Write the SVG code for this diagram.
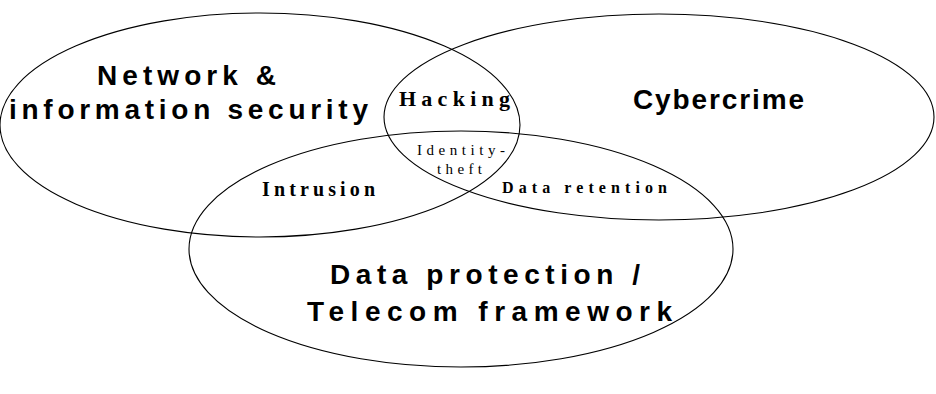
<svg xmlns="http://www.w3.org/2000/svg" width="936" height="394" viewBox="0 0 936 394">
<style>
.ring{fill:none;stroke:#000;stroke-width:1.1}
.big{font-family:"Liberation Sans",Arial,sans-serif;font-weight:bold;font-size:28px;fill:#000}
.small{font-family:"Liberation Serif","Times New Roman",serif;fill:#000}
</style>
<rect width="936" height="394" fill="#fff"/>
<g id="connectors"></g>
<g id="network-security">
<ellipse class="ring" cx="260" cy="125" rx="260" ry="112"/>
<text class="big" x="97" y="85" textLength="179" lengthAdjust="spacing">Network &amp;</text>
<text class="big" x="9" y="119" textLength="359" lengthAdjust="spacing">information security</text>
</g>
<g id="cybercrime">
<ellipse class="ring" cx="659" cy="117" rx="275" ry="103"/>
<text class="big" x="633" y="109" textLength="171" lengthAdjust="spacing">Cybercrime</text>
</g>
<g id="data-protection">
<ellipse class="ring" cx="461" cy="249" rx="272" ry="118"/>
<text class="big" x="330" y="284" textLength="310" lengthAdjust="spacing">Data protection /</text>
<text class="big" x="307" y="321" textLength="365" lengthAdjust="spacing">Telecom framework</text>
</g>
<g id="hacking">
<text class="small" x="399" y="106" font-size="22" font-weight="bold" textLength="111" lengthAdjust="spacing">Hacking</text>
</g>
<g id="identity-theft">
<text class="small" x="417" y="155" font-size="15" textLength="88" lengthAdjust="spacing">Identity-</text>
<text class="small" x="437" y="174" font-size="15" textLength="45" lengthAdjust="spacing">theft</text>
</g>
<g id="intrusion">
<text class="small" x="262" y="196" font-size="20" font-weight="bold" textLength="113" lengthAdjust="spacing">Intrusion</text>
</g>
<g id="data-retention">
<text class="small" x="502" y="193" font-size="16" font-weight="bold" textLength="165" lengthAdjust="spacing">Data retention</text>
</g>
</svg>
